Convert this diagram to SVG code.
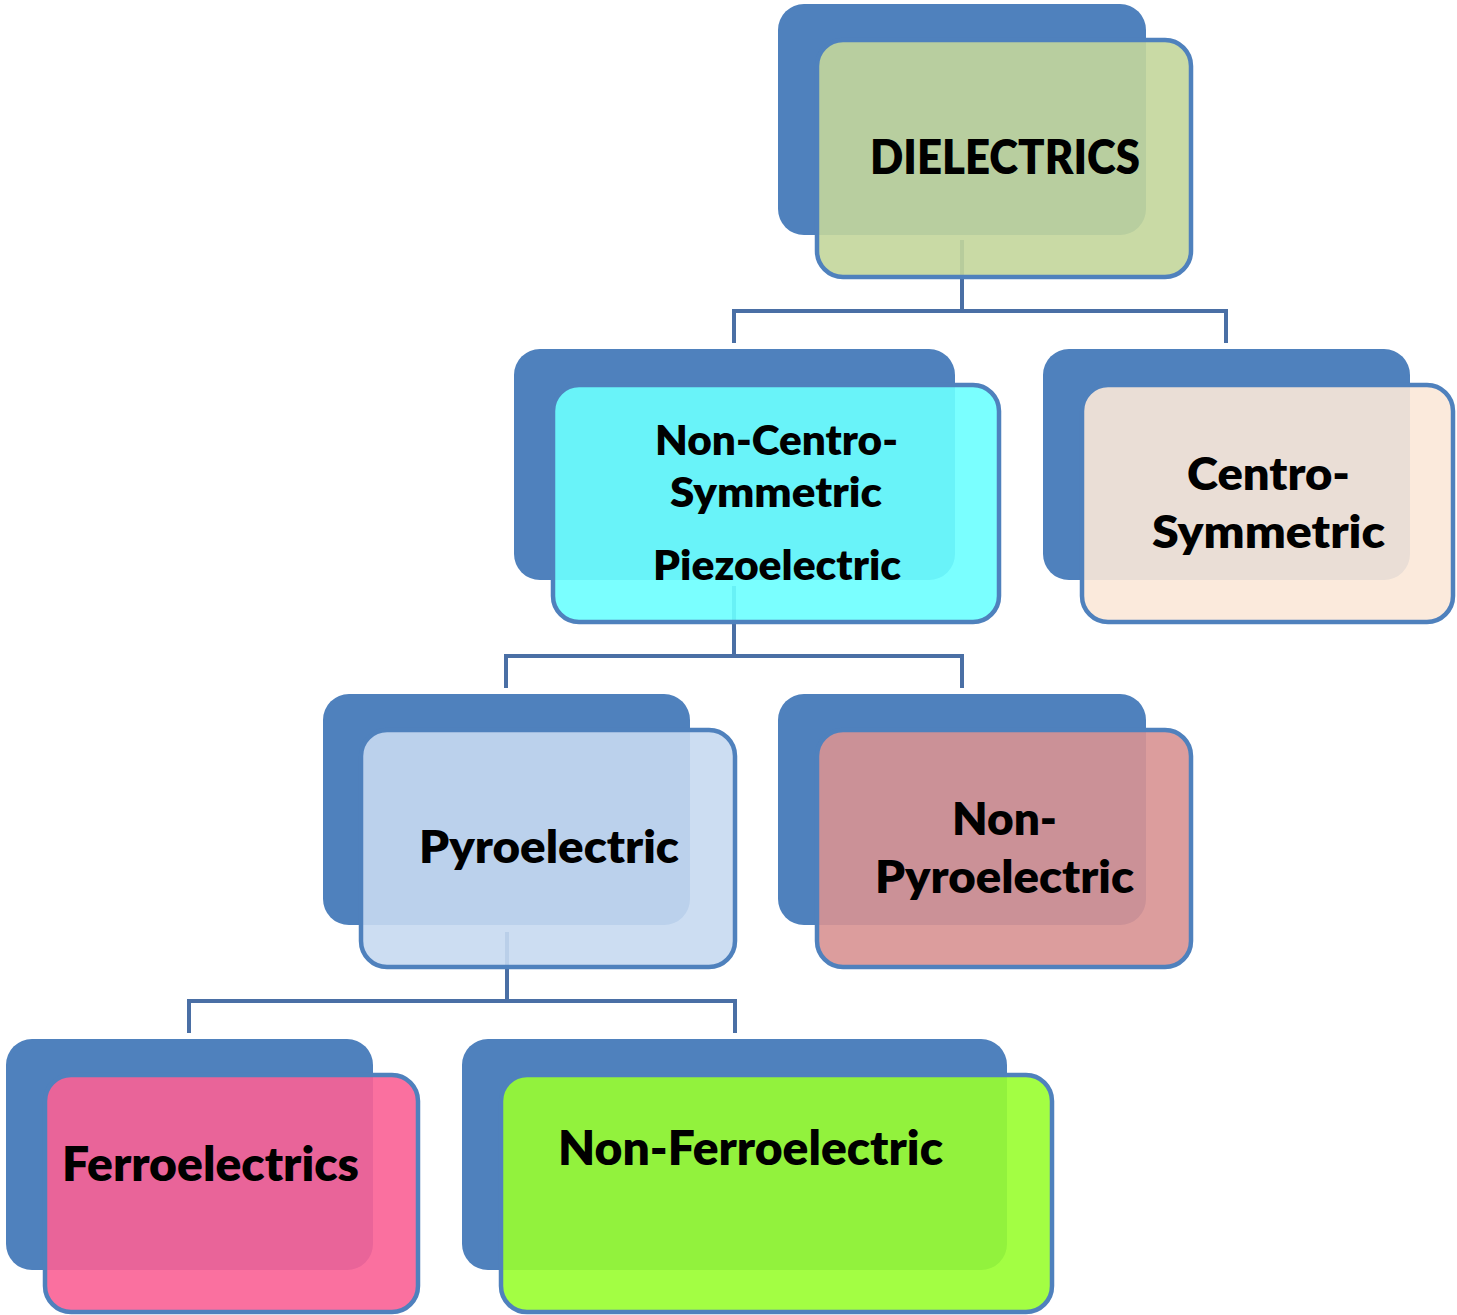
<svg xmlns="http://www.w3.org/2000/svg" width="1457" height="1315" viewBox="0 0 1457 1315">
  <style>
    .back { fill: #4F81BD; }
    .front { stroke: #4F81BD; stroke-width: 4.5; fill-opacity: 0.9; }
    .conn { fill: none; stroke: #4A6FA5; stroke-width: 4; }
    .lbl { font-family: Lato, "Open Sans", "Liberation Sans", sans-serif; font-weight: 800; fill: #000; text-anchor: middle; }
  </style>
  <rect width="1457" height="1315" fill="#FFFFFF"/>
  <g id="connectors">
    <path class="conn" d="M962,240 V311 M734,343 V311 H1226 V343"/>
    <path class="conn" d="M734,586 V656 M506,688 V656 H962 V688"/>
    <path class="conn" d="M507,932 V1001 M189,1033 V1001 H735 V1033"/>
  </g>
  <g id="dielectrics">
    <rect class="back" x="778" y="4" width="368" height="231" rx="26"/>
    <rect class="front" x="817" y="40" width="374" height="237" rx="26" fill="#C3D69B"/>
    <text class="lbl" x="1005" y="174" font-size="47" textLength="270" lengthAdjust="spacingAndGlyphs">DIELECTRICS</text>
  </g>
  <g id="non-centro-symmetric">
    <rect class="back" x="514" y="349" width="441" height="231" rx="26"/>
    <rect class="front" x="553" y="385" width="446" height="237" rx="26" fill="#6BFFFF"/>
    <text class="lbl" x="776.5" y="455" font-size="41" textLength="243" lengthAdjust="spacingAndGlyphs">Non-Centro-</text>
    <text class="lbl" x="776" y="507" font-size="41" textLength="212" lengthAdjust="spacingAndGlyphs">Symmetric</text>
    <text class="lbl" x="777" y="580" font-size="41" textLength="248" lengthAdjust="spacingAndGlyphs">Piezoelectric</text>
  </g>
  <g id="centro-symmetric">
    <rect class="back" x="1043" y="349" width="367" height="231" rx="26"/>
    <rect class="front" x="1082" y="385" width="371" height="237" rx="26" fill="#FBE8D8"/>
    <text class="lbl" x="1268.5" y="490" font-size="46" textLength="163" lengthAdjust="spacingAndGlyphs">Centro-</text>
    <text class="lbl" x="1268.5" y="548" font-size="46" textLength="233" lengthAdjust="spacingAndGlyphs">Symmetric</text>
  </g>
  <g id="pyroelectric">
    <rect class="back" x="323" y="694" width="367" height="231" rx="26"/>
    <rect class="front" x="361" y="730" width="374" height="237" rx="26" fill="#C6D9F1"/>
    <text class="lbl" x="549" y="863" font-size="46" textLength="260" lengthAdjust="spacingAndGlyphs">Pyroelectric</text>
  </g>
  <g id="non-pyroelectric">
    <rect class="back" x="778" y="694" width="368" height="231" rx="26"/>
    <rect class="front" x="817" y="730" width="374" height="237" rx="26" fill="#D89292"/>
    <text class="lbl" x="1004.5" y="835" font-size="46" textLength="105" lengthAdjust="spacingAndGlyphs">Non-</text>
    <text class="lbl" x="1004.5" y="893" font-size="46" textLength="259" lengthAdjust="spacingAndGlyphs">Pyroelectric</text>
  </g>
  <g id="ferroelectrics">
    <rect class="back" x="6" y="1039" width="367" height="231" rx="26"/>
    <rect class="front" x="45" y="1075" width="373" height="237" rx="26" fill="#F96195"/>
    <text class="lbl" x="210.5" y="1181" font-size="47" textLength="297" lengthAdjust="spacingAndGlyphs">Ferroelectrics</text>
  </g>
  <g id="non-ferroelectric">
    <rect class="back" x="462" y="1039" width="545" height="231" rx="26"/>
    <rect class="front" x="501" y="1075" width="551" height="237" rx="26" fill="#99FE2F"/>
    <text class="lbl" x="750.5" y="1165" font-size="47" textLength="385" lengthAdjust="spacingAndGlyphs">Non-Ferroelectric</text>
  </g>
</svg>
